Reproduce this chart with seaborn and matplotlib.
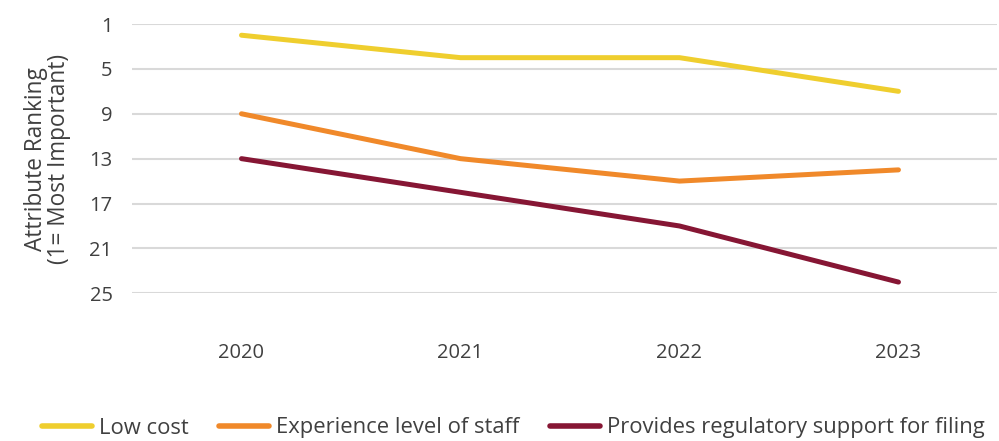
import matplotlib
matplotlib.use("Agg")
import matplotlib.pyplot as plt
import seaborn as sns
import pandas as pd

years = ["2020", "2021", "2022", "2023"]
series_names = ["Low cost", "Experience level of staff", "Provides regulatory support for filing"]
low_cost = [2, 4, 4, 7]
experience = [9, 13, 15, 14]
regulatory = [13, 16, 19, 24]
colors = ["#EFCE2E", "#F0892A", "#861634"]
y_ticks = [1, 5, 9, 13, 17, 21, 25]

rows = []
for name, vals in zip(series_names, [low_cost, experience, regulatory]):
    for i, (yr, v) in enumerate(zip(years, vals)):
        rows.append({"x": i, "Year": yr, "Rank": v, "Series": name})
df = pd.DataFrame(rows)

sns.set_theme(style="white")
plt.rcParams["font.family"] = ["Open Sans", "DejaVu Sans"]
text_color = "#404040"

fig = plt.figure(figsize=(9.99, 4.41), dpi=100)
ax = fig.add_axes([132/999, 1 - 293.3/441, (997-132)/999, (293.3-24)/441])

sns.lineplot(data=df, x="x", y="Rank", hue="Series", palette=colors,
             linewidth=3.6, ax=ax, legend=True, solid_capstyle="round")

ax.set_ylim(25, 1)
ax.set_yticks(y_ticks)
ax.set_yticklabels([str(t) for t in y_ticks], fontsize=14.5, color=text_color)
ax.set_xlim(-0.5, 3.45)
ax.set_xticks(range(len(years)))
ax.set_xticklabels(years, fontsize=14.5, color=text_color)
ax.tick_params(axis="x", length=0, pad=36)
ax.tick_params(axis="y", length=0, pad=14)
ax.set_xlabel("")
ax.set_ylabel("Attribute Ranking\n(1= Most Important)", fontsize=16.3, color=text_color, labelpad=13, linespacing=0.95)
ax.grid(axis="y", color="#D9D9D9", linewidth=1.5)
ax.set_axisbelow(True)
for s in ax.spines.values():
    s.set_visible(False)

handles, labels = ax.get_legend_handles_labels()
ax.get_legend().remove()
for h in handles:
    h.set_linewidth(4)
fig.legend(handles, labels, loc="center", bbox_to_anchor=(0.514, 1 - 428/441), ncol=3,
           frameon=False, fontsize=15.8, handlelength=2.28, handletextpad=0.32,
           columnspacing=1.4, labelcolor=text_color)

fig.savefig("out.png", dpi=100)
